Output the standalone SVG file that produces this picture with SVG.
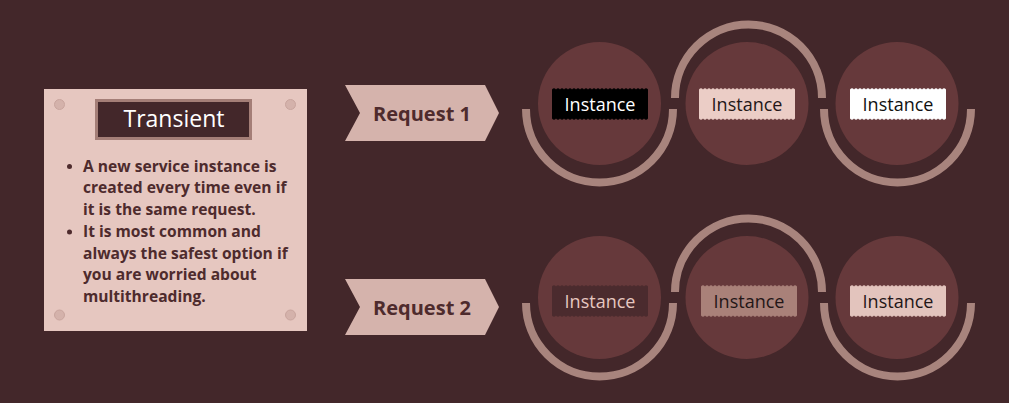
<svg xmlns="http://www.w3.org/2000/svg" xmlns:xlink="http://www.w3.org/1999/xlink" width="1009" height="403" viewBox="0 0 1009 403">
<style>
.bg{fill:#43272a}
.card{fill:#e6c7c0}
.screw{fill:#d4b2ab;stroke:#c9a59e;stroke-width:1}
.tbox{fill:#43272a;stroke:#a47e77;stroke-width:3}
.title{font-family:"Open Sans","Liberation Sans",sans-serif;font-size:23px;fill:#ffffff;text-anchor:middle}
.body{font-family:"Open Sans","Liberation Sans",sans-serif;font-size:15.6px;font-weight:bold;fill:#4e2b2d}
.dot{fill:#4e2b2d}
.chev{fill:#d5b3ac}
.req{font-family:"Open Sans","Liberation Sans",sans-serif;font-size:20px;font-weight:bold;fill:#4e2b2d;text-anchor:middle}
.circ{fill:#66393b}
.ring{fill:none;stroke:#a8847d;stroke-width:8;stroke-linecap:butt}
.inst{font-family:"Open Sans","Liberation Sans",sans-serif;font-size:18px;text-anchor:middle}
</style>
<defs>
<path id="tag" d="M0,2.5 q2,-2.5 4,0 q2,-2.5 4,0 q2,-2.5 4,0 q2,-2.5 4,0 q2,-2.5 4,0 q2,-2.5 4,0 q2,-2.5 4,0 q2,-2.5 4,0 q2,-2.5 4,0 q2,-2.5 4,0 q2,-2.5 4,0 q2,-2.5 4,0 q2,-2.5 4,0 q2,-2.5 4,0 q2,-2.5 4,0 q2,-2.5 4,0 q2,-2.5 4,0 q2,-2.5 4,0 q2,-2.5 4,0 q2,-2.5 4,0 q2,-2.5 4,0 q2,-2.5 4,0 q2,-2.5 4,0 q2,-2.5 4,0 L96,31.5 q-2,2.5 -4,0 q-2,2.5 -4,0 q-2,2.5 -4,0 q-2,2.5 -4,0 q-2,2.5 -4,0 q-2,2.5 -4,0 q-2,2.5 -4,0 q-2,2.5 -4,0 q-2,2.5 -4,0 q-2,2.5 -4,0 q-2,2.5 -4,0 q-2,2.5 -4,0 q-2,2.5 -4,0 q-2,2.5 -4,0 q-2,2.5 -4,0 q-2,2.5 -4,0 q-2,2.5 -4,0 q-2,2.5 -4,0 q-2,2.5 -4,0 q-2,2.5 -4,0 q-2,2.5 -4,0 q-2,2.5 -4,0 q-2,2.5 -4,0 q-2,2.5 -4,0 Z"/>
<path id="chevron" d="M0,0 L140,0 L154,28 L140,56 L0,56 L15,28 Z"/>
</defs>
<rect class="bg" x="0" y="0" width="1009" height="403"/>

<g id="card">
<rect class="card" x="44" y="89" width="263" height="242"/>
<circle class="screw" cx="59.5" cy="104.5" r="5"/>
<circle class="screw" cx="290.5" cy="104.5" r="5"/>
<circle class="screw" cx="59.5" cy="315" r="5"/>
<circle class="screw" cx="290.5" cy="315" r="5"/>
<rect class="tbox" x="96.5" y="100.5" width="154" height="38"/>
<text class="title" x="174" y="127.3">Transient</text>
<circle class="dot" cx="69.5" cy="166.5" r="2.5"/>
<circle class="dot" cx="69.5" cy="232" r="2.5"/>
<text class="body" x="83" y="171.5">A new service instance is</text>
<text class="body" x="83" y="193.3">created every time even if</text>
<text class="body" x="83" y="215">it is the same request.</text>
<text class="body" x="83" y="236.8">It is most common and</text>
<text class="body" x="83" y="258.6">always the safest option if</text>
<text class="body" x="83" y="280.4">you are worried about</text>
<text class="body" x="83" y="302.2">multithreading.</text>
</g>

<g id="request1">
<use xlink:href="#chevron" href="#chevron" class="chev" x="345" y="85"/>
<text class="req" x="422" y="120.7">Request 1</text>
</g>
<g id="request2">
<use xlink:href="#chevron" href="#chevron" class="chev" x="345" y="279"/>
<text class="req" x="422" y="314.7">Request 2</text>
</g>

<g id="rings">
<path class="ring" d="M526,109 A73.5,73.5 0 0 0 673,109"/>
<path class="ring" d="M675,98 A73.5,73.5 0 0 1 822,98"/>
<path class="ring" d="M824,109 A73.5,73.5 0 0 0 971,109"/>
<path class="ring" d="M526,303 A73.5,73.5 0 0 0 673,303"/>
<path class="ring" d="M675,292 A73.5,73.5 0 0 1 822,292"/>
<path class="ring" d="M824,303 A73.5,73.5 0 0 0 971,303"/>
</g>

<g id="r1-instance1">
<circle class="circ" cx="599.5" cy="103.5" r="61.5"/>
<use xlink:href="#tag" href="#tag" x="552" y="87" fill="#000000"/>
<text class="inst" x="600" y="110.5" fill="#ffffff">Instance</text>
</g>
<g id="r1-instance2">
<circle class="circ" cx="747" cy="103.5" r="61.5"/>
<use xlink:href="#tag" href="#tag" x="699" y="87" fill="#ebcdc6"/>
<text class="inst" x="747" y="110.5" fill="#231617">Instance</text>
</g>
<g id="r1-instance3">
<circle class="circ" cx="897" cy="103.5" r="61.5"/>
<use xlink:href="#tag" href="#tag" x="850" y="87" fill="#ffffff"/>
<text class="inst" x="898" y="110.5" fill="#111111">Instance</text>
</g>

<g id="r2-instance1">
<circle class="circ" cx="599.5" cy="297.5" r="61.5"/>
<use xlink:href="#tag" href="#tag" x="552" y="284" fill="#4b2b2e"/>
<text class="inst" x="600" y="307.5" fill="#e6c7c0">Instance</text>
</g>
<g id="r2-instance2">
<circle class="circ" cx="747" cy="297.5" r="61.5"/>
<use xlink:href="#tag" href="#tag" x="701" y="284" fill="#a98179"/>
<text class="inst" x="749" y="307.5" fill="#231617">Instance</text>
</g>
<g id="r2-instance3">
<circle class="circ" cx="897" cy="297.5" r="61.5"/>
<use xlink:href="#tag" href="#tag" x="850" y="284" fill="#e3c4bd"/>
<text class="inst" x="898" y="307.5" fill="#231617">Instance</text>
</g>
</svg>
